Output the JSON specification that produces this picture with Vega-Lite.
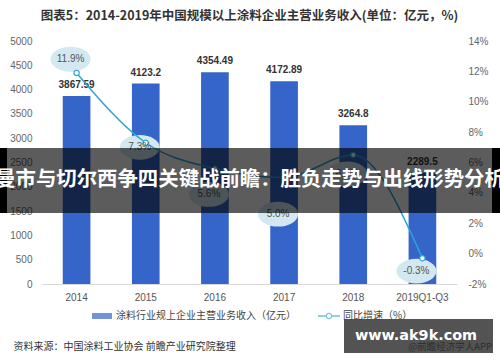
{
  "$schema": "https://vega.github.io/schema/vega-lite/v6.json",
  "width": 415,
  "height": 243,
  "autosize": {"type": "none"},
  "padding": {"left": 42, "right": 43, "top": 41, "bottom": 78},
  "background": "white",
  "config": {"view": {"stroke": null}, "font": "Liberation Sans, Noto Sans CJK SC"},
  "title": {
    "text": "图表5：2014-2019年中国规模以上涂料企业主营业务收入(单位：亿元，%)",
    "font": "Noto Sans CJK SC",
    "fontSize": 12.5,
    "fontWeight": "bold",
    "color": "#333333",
    "anchor": "middle",
    "offset": 14
  },
  "datasets": {
    "main": [
      {"year": "2014", "revenue": 3867.59, "rlabel": "3867.59", "growth": 11.9, "glabel": "11.9%", "lpos": 12.8},
      {"year": "2015", "revenue": 4123.2, "rlabel": "4123.2", "growth": 7.3, "glabel": "7.3%", "lpos": 7.0},
      {"year": "2016", "revenue": 4354.49, "rlabel": "4354.49", "growth": 5.6, "glabel": "5.6%", "lpos": 3.9},
      {"year": "2017", "revenue": 4172.89, "rlabel": "4172.89", "growth": 5.0, "glabel": "5.0%", "lpos": 2.6},
      {"year": "2018", "revenue": 3264.8, "rlabel": "3264.8", "growth": 6.5, "glabel": "6.5%", "lpos": 5.25},
      {"year": "2019Q1-Q3", "revenue": 2289.5, "rlabel": "2289.5", "growth": -0.3, "glabel": "-0.3%", "lpos": -1.15}
    ],
    "banner": [{"t": "曼市与切尔西争四关键战前瞻：胜负走势与出线形势分析"}],
    "wm": [{"t": "www.ak9k.com", "s": "@前瞻经济学人APP"}],
    "leg": [{"series": "涂料行业规上企业主营业务收入（亿元）"}]
  },
  "encoding": {
    "x": {
      "field": "year",
      "type": "ordinal",
      "sort": null,
      "scale": {"paddingInner": 0.6, "paddingOuter": 0.3},
      "axis": {
        "title": "资料来源：中国涂料工业协会 前瞻产业研究院整理",
        "titleAnchor": "start",
        "titleAlign": "left",
        "titleX": -29,
        "titleY": 62,
        "titleBaseline": "middle",
        "titleFont": "Noto Sans CJK SC",
        "titleFontSize": 10,
        "titleFontWeight": "normal",
        "titleColor": "#333333",
        "labelAngle": 0,
        "labelFontSize": 10,
        "labelColor": "#555555",
        "labelPadding": 8,
        "ticks": false,
        "domainColor": "#d9d9d9"
      }
    }
  },
  "layer": [
    {
      "data": {"name": "main"},
      "mark": {"type": "bar", "color": "#3565c9"},
      "encoding": {
        "y": {
          "field": "revenue",
          "type": "quantitative",
          "scale": {"domain": [0, 5000], "nice": false},
          "axis": {
            "orient": "left",
            "values": [0, 500, 1000, 1500, 2000, 2500, 3000, 3500, 4000, 4500, 5000],
            "format": "d",
            "grid": false,
            "domain": false,
            "ticks": false,
            "labelPadding": 10,
            "labelFontSize": 10,
            "labelColor": "#666666",
            "title": null
          }
        }
      }
    },
    {
      "data": {"name": "main"},
      "mark": {"type": "text", "baseline": "bottom", "dy": -6, "fontSize": 10, "fontWeight": "bold", "color": "#333333"},
      "encoding": {
        "y": {"field": "revenue", "type": "quantitative", "scale": {"domain": [0, 5000], "nice": false}, "axis": null},
        "text": {"field": "rlabel"}
      }
    },
    {
      "data": {"name": "main"},
      "mark": {"type": "point", "shape": "M-1,0A1,0.62 0 1,0 1,0A1,0.62 0 1,0 -1,0Z", "size": 1600, "filled": true, "color": "#d3e8f1", "opacity": 1, "xOffset": -6},
      "encoding": {
        "y": {"field": "lpos", "type": "quantitative", "scale": {"domain": [-2, 14], "nice": false}, "axis": null}
      }
    },
    {
      "data": {"name": "main"},
      "mark": {"type": "line", "color": "#2aa5d6", "strokeWidth": 1.5, "interpolate": "monotone"},
      "encoding": {
        "y": {
          "field": "growth",
          "type": "quantitative",
          "scale": {"domain": [-2, 14], "nice": false},
          "axis": {
            "orient": "right",
            "values": [-2, 0, 2, 4, 6, 8, 10, 12, 14],
            "labelExpr": "datum.value + '%'",
            "grid": false,
            "domain": false,
            "ticks": false,
            "labelPadding": 11,
            "labelFontSize": 10,
            "labelColor": "#666666",
            "title": null
          }
        }
      }
    },
    {
      "data": {"name": "main"},
      "mark": {"type": "point", "filled": true, "fill": "white", "stroke": "#2aa5d6", "strokeWidth": 1.2, "size": 28, "opacity": 1},
      "encoding": {
        "y": {"field": "growth", "type": "quantitative", "scale": {"domain": [-2, 14], "nice": false}, "axis": null}
      }
    },
    {
      "data": {"name": "main"},
      "mark": {"type": "text", "fontSize": 10, "color": "#555555", "dx": -6, "baseline": "middle"},
      "encoding": {
        "y": {"field": "lpos", "type": "quantitative", "scale": {"domain": [-2, 14], "nice": false}, "axis": null},
        "text": {"field": "glabel"}
      }
    },
    {
      "data": {"name": "banner"},
      "mark": {"type": "rect", "color": "#000000", "opacity": 0.64},
      "encoding": {
        "x": {"value": -42},
        "x2": {"value": 458},
        "y": {"datum": 2798, "type": "quantitative", "scale": {"domain": [0, 5000], "nice": false}, "axis": null},
        "y2": {"datum": 1461}
      }
    },
    {
      "data": {"name": "banner"},
      "mark": {"type": "rect", "color": "#000000", "opacity": 1},
      "encoding": {
        "x": {"value": -42},
        "x2": {"value": -35},
        "y": {"datum": 2798, "type": "quantitative", "scale": {"domain": [0, 5000], "nice": false}, "axis": null},
        "y2": {"datum": 1461}
      }
    },
    {
      "data": {"name": "banner"},
      "mark": {"type": "rect", "color": "#000000", "opacity": 1},
      "encoding": {
        "x": {"value": 450},
        "x2": {"value": 458},
        "y": {"datum": 2798, "type": "quantitative", "scale": {"domain": [0, 5000], "nice": false}, "axis": null},
        "y2": {"datum": 1461}
      }
    },
    {
      "data": {"name": "banner"},
      "mark": {"type": "text", "color": "white", "fontSize": 20.4, "fontWeight": "bold", "font": "Noto Sans CJK SC", "align": "center", "baseline": "middle"},
      "encoding": {
        "x": {"value": 208},
        "y": {"datum": 2130, "type": "quantitative", "scale": {"domain": [0, 5000], "nice": false}, "axis": null},
        "text": {"field": "t"}
      }
    },
    {
      "data": {"name": "wm"},
      "mark": {"type": "rect", "color": "#4a4a4a", "opacity": 0.95},
      "encoding": {
        "x": {"value": 302},
        "x2": {"value": 451},
        "y": {"value": 278},
        "y2": {"value": 312}
      }
    },
    {
      "data": {"name": "wm"},
      "mark": {"type": "text", "color": "white", "fontSize": 14.4, "fontWeight": "bold", "font": "DejaVu Sans", "align": "center", "baseline": "middle"},
      "encoding": {
        "x": {"value": 374},
        "y": {"value": 295},
        "text": {"field": "t"}
      }
    },
    {
      "data": {"name": "wm"},
      "mark": {"type": "text", "color": "#2e2e2e", "fontSize": 9.5, "font": "Noto Sans CJK SC", "align": "right", "baseline": "middle"},
      "encoding": {
        "x": {"value": 450},
        "y": {"value": 306},
        "text": {"field": "s"}
      }
    },
    {
      "data": {"name": "leg"},
      "transform": [{"filter": "false"}],
      "mark": {"type": "point", "filled": true},
      "encoding": {
        "color": {
          "field": "series",
          "type": "nominal",
          "scale": {"domain": ["涂料行业规上企业主营业务收入（亿元）", "同比增速（%）"], "range": ["#3565c9", "#2aa5d6"]},
          "legend": {"title": null, "orient": "none", "legendX": 49, "legendY": 264, "direction": "horizontal", "symbolSize": 484, "labelFontSize": 10, "labelColor": "#444444", "labelFont": "Noto Sans CJK SC", "labelLimit": 400, "columnPadding": 22, "labelOffset": 3, "symbolStrokeWidth": 0}
        },
        "shape": {
          "field": "series",
          "type": "nominal",
          "scale": {"domain": ["涂料行业规上企业主营业务收入（亿元）", "同比增速（%）"], "range": ["M-0.91,-0.27H0.91V0.27H-0.91Z", "M-1,-0.07H-0.3V0.07H-1Z M0.3,-0.07H1V0.07H0.3Z M-0.3,0A0.3,0.3 0 1,1 0.3,0A0.3,0.3 0 1,1 -0.3,0Z M-0.2,0A0.2,0.2 0 1,0 0.2,0A0.2,0.2 0 1,0 -0.2,0Z"]},
          "legend": {"title": null, "orient": "none", "legendX": 49, "legendY": 264, "direction": "horizontal", "symbolSize": 484, "labelFontSize": 10, "labelColor": "#444444", "labelFont": "Noto Sans CJK SC", "labelLimit": 400, "columnPadding": 22, "labelOffset": 3, "symbolStrokeWidth": 0}
        }
      }
    }
  ],
  "resolve": {"scale": {"y": "independent"}}
}
